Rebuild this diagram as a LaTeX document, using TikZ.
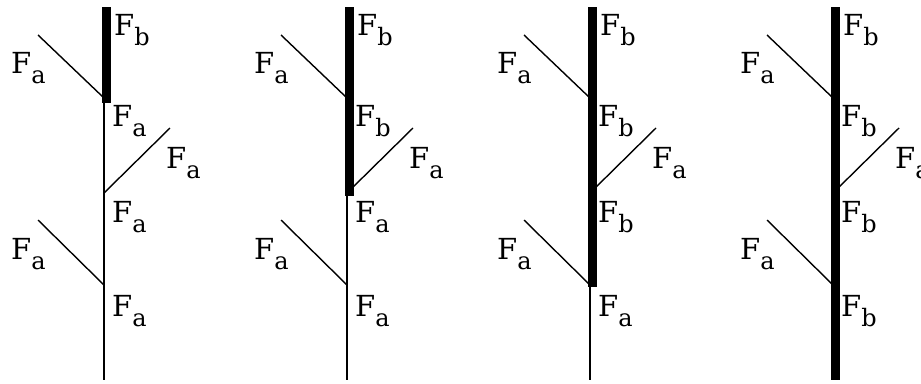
\documentclass[tikz,border=0pt]{standalone}
\usepackage{fontspec}
\setmainfont{DejaVu Serif}
\newcommand\flab[1]{F\raisebox{-10pt}{\fontsize{24}{28}\selectfont #1}}
\tikzset{
  stem/.style={line width=1.4pt},
  thickstem/.style={line width=9pt, line cap=butt},
  branch/.style={line width=1.4pt},
  lab/.style={anchor=base west, inner sep=0pt, font=\fontsize{29}{34}\selectfont}
}
\begin{document}
\begin{tikzpicture}[x=1pt,y=-1pt]
\useasboundingbox (0,0) rectangle (921,383);
\clip (0,0) rectangle (921,383);
\foreach \i/\x/\e/\lb/\lc/\ld in {1/104/103/a/a/a, 2/347/196/b/a/a, 3/590/287/b/b/a, 4/833/380/b/b/b}{
  \coordinate (top\i) at (\x,7);
  \coordinate (bot\i) at (\x,380);
  \coordinate (ja\i) at (\x,98);
  \coordinate (jb\i) at (\x,193);
  \coordinate (jc\i) at (\x,285);
  \coordinate (ba\i) at (\x-66,35);
  \coordinate (bb\i) at (\x+66,128);
  \coordinate (bc\i) at (\x-66,220);
  \coordinate (tt\i) at (\x+2,7);
  \coordinate (te\i) at (\x+2,\e);
  \draw[stem] (top\i) -- (bot\i);
  \draw[thickstem] (tt\i) -- (te\i);
  \draw[branch] (ba\i) -- (ja\i);
  \draw[branch] (jb\i) -- (bb\i);
  \draw[branch] (bc\i) -- (jc\i);
  \node[lab] (Lt\i) at (\x+10,35) {\flab{b}};
  \node[lab] (Lba\i) at (\x-93,73) {\flab{a}};
  \node[lab] (Lja\i) at (\x+8,126) {\flab{\lb}};
  \node[lab] (Lbb\i) at (\x+62,168) {\flab{a}};
  \node[lab] (Ljb\i) at (\x+8,222) {\flab{\lc}};
  \node[lab] (Lbc\i) at (\x-93,259) {\flab{a}};
  \node[lab] (Ljc\i) at (\x+8,316) {\flab{\ld}};
}
\end{tikzpicture}
\end{document}
